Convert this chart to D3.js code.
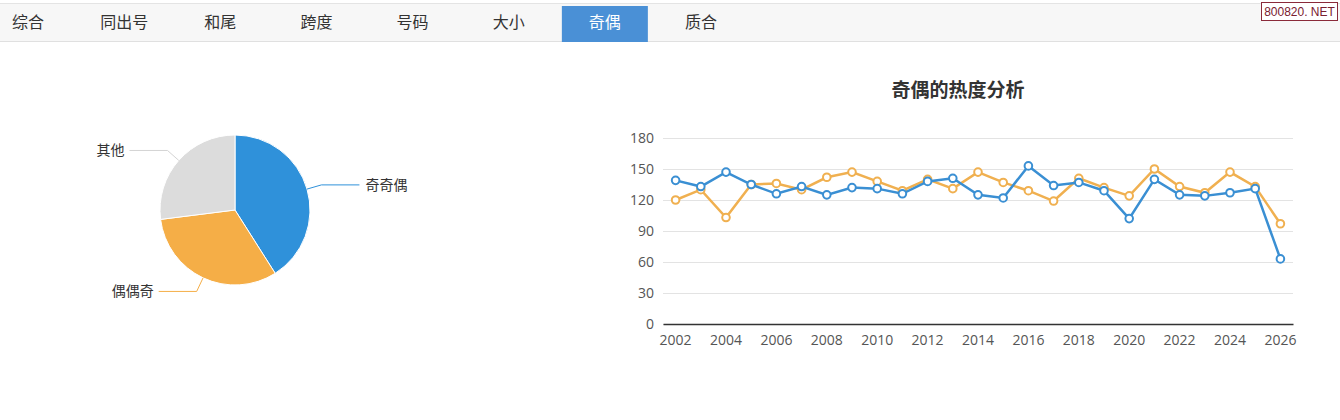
<!DOCTYPE html>
<html>
<head>
<meta charset="utf-8">
<script src="https://cdn.jsdelivr.net/npm/d3@7"></script>
<style>
body{margin:0;background:#fff;font-family:"Microsoft YaHei","Noto Sans CJK SC",sans-serif;}
svg{display:block;}
</style>
</head>
<body>
<svg width="1340" height="420"></svg>
<script>
var tabs = ['综合','同出号','和尾','跨度','号码','大小','奇偶','质合'];
var activeTab = '奇偶';

var pieNames = ['奇奇偶','偶偶奇','其他'];
var pieValues = [41, 32, 27];
var pieColors = ['#2f91da','#f5ae47','#dcdcdc'];

var years = ['2002','2003','2004','2005','2006','2007','2008','2009','2010','2011','2012','2013','2014',
  '2015','2016','2017','2018','2019','2020','2021','2022','2023','2024','2025','2026'];
var seriesA = [139,133,147,135,126,133,125,132,131,126,138,141,125,122,153,134,137,129,102,140,125,124,127,131,63];
var seriesB = [120,130,103,135,136,130,142,147,138,129,140,131,147,137,129,119,141,132,124,150,133,127,147,133,97];
var yTicks = [0,30,60,90,120,150,180];

var svg = d3.select('svg');

// tab bar
svg.append('rect').attr('x',0).attr('y',3).attr('width',1340).attr('height',39)
  .attr('fill','#f7f7f7');
svg.append('line').attr('x1',0).attr('x2',1340).attr('y1',3.5).attr('y2',3.5).attr('stroke','#e4e4e4');
svg.append('line').attr('x1',0).attr('x2',1340).attr('y1',41.5).attr('y2',41.5).attr('stroke','#e0e0e0');

var tabX = d3.scalePoint().domain(tabs).range([28,701]);
var tab = svg.selectAll('g.tab').data(tabs).enter().append('g').attr('class','tab');
tab.filter(function(d){return d==activeTab;}).append('rect')
  .attr('x',function(d){return tabX(d)-43;}).attr('y',6).attr('width',86).attr('height',36)
  .attr('fill','#4a90d6');
tab.append('text')
  .attr('x',function(d){return tabX(d);}).attr('y',28)
  .attr('text-anchor','middle').attr('font-size',16)
  .attr('fill',function(d){return d==activeTab?'#fff':'#333';})
  .text(function(d){return d;});

// badge
svg.append('rect').attr('x',1261.5).attr('y',2.5).attr('width',76).attr('height',18)
  .attr('fill','#fff').attr('stroke','#8a2a3a');
svg.append('text').attr('x',1299.5).attr('y',16).attr('text-anchor','middle')
  .attr('font-family','Arial,"Liberation Sans",sans-serif').attr('font-size',12)
  .attr('fill','#7a2030').text('800820. NET');

// pie
var cx = 235, cy = 210, r = 75;
var pie = d3.pie().sort(null).value(function(d){return d;});
var arcs = pie(pieValues);
var arc = d3.arc().innerRadius(0).outerRadius(r);
var pg = svg.append('g').attr('transform','translate('+cx+','+cy+')');
pg.selectAll('path').data(arcs).enter().append('path')
  .attr('d',arc).attr('fill',function(d,i){return pieColors[i];})
  .attr('stroke','#fff').attr('stroke-width',1);

var outer = d3.arc().innerRadius(r+15).outerRadius(r+15);
var edge = d3.arc().innerRadius(r).outerRadius(r);
function isRight(d){return (d.startAngle+d.endAngle)/2 < Math.PI;}
pg.selectAll('polyline').data(arcs).enter().append('polyline')
  .attr('fill','none')
  .attr('stroke',function(d,i){return i==2?'#d4d4d4':pieColors[i];})
  .attr('points',function(d){
    var a = edge.centroid(d), b = outer.centroid(d);
    var c = [b[0]+(isRight(d)?38:-38), b[1]];
    return [a,b,c].map(function(p){return p.join(',');}).join(' ');
  });
pg.selectAll('text.lbl').data(arcs).enter().append('text').attr('class','lbl')
  .attr('x',function(d){return outer.centroid(d)[0]+(isRight(d)?44:-43);})
  .attr('y',function(d){return outer.centroid(d)[1]+5;})
  .attr('text-anchor',function(d){return isRight(d)?'start':'end';})
  .attr('font-size',14).attr('fill','#333')
  .text(function(d,i){return pieNames[i];});

// line chart
var plotL = 663, plotR = 1293, plotT = 138, plotB = 324;
var x = d3.scaleBand().domain(years).range([plotL,plotR]);
var y = d3.scaleLinear().domain([0,180]).range([plotB,plotT]);

svg.append('text').attr('x',958).attr('y',97).attr('text-anchor','middle')
  .attr('font-size',19).attr('font-weight','bold').attr('fill','#333').text('奇偶的热度分析');

var yaxis = d3.axisLeft(y).tickValues(yTicks).tickSize(-(plotR-plotL)).tickPadding(9);
var gy = svg.append('g').attr('transform','translate('+plotL+',0)').call(yaxis);
gy.select('.domain').remove();
gy.selectAll('.tick line').attr('stroke','#e3e3e3');
gy.selectAll('.tick text').attr('font-size',14).attr('fill','#555')
  .attr('font-family','"Open Sans","DejaVu Sans",sans-serif');

var xaxis = d3.axisBottom(x).tickValues(years.filter(function(d,i){return i%2==0;})).tickSize(0).tickPadding(11);
var gx = svg.append('g').attr('transform','translate(0,'+plotB+')').call(xaxis);
gx.select('.domain').attr('stroke','#333').attr('stroke-width',1.5);
gx.selectAll('.tick text').attr('font-size',14).attr('fill','#555')
  .attr('font-family','"Open Sans","DejaVu Sans",sans-serif');

var line = d3.line()
  .x(function(d,i){return x(years[i])+x.bandwidth()/2;})
  .y(function(d){return y(d);});

[[seriesB,'#f0b050'],[seriesA,'#3a8fd3']].forEach(function(s){
  svg.append('path').datum(s[0]).attr('d',line).attr('fill','none')
    .attr('stroke',s[1]).attr('stroke-width',2.5);
  svg.append('g').selectAll('circle').data(s[0]).enter().append('circle')
    .attr('cx',function(d,i){return x(years[i])+x.bandwidth()/2;})
    .attr('cy',function(d){return y(d);})
    .attr('r',3.8).attr('fill','#fff').attr('stroke',s[1]).attr('stroke-width',2);
});
</script>
</body>
</html>
